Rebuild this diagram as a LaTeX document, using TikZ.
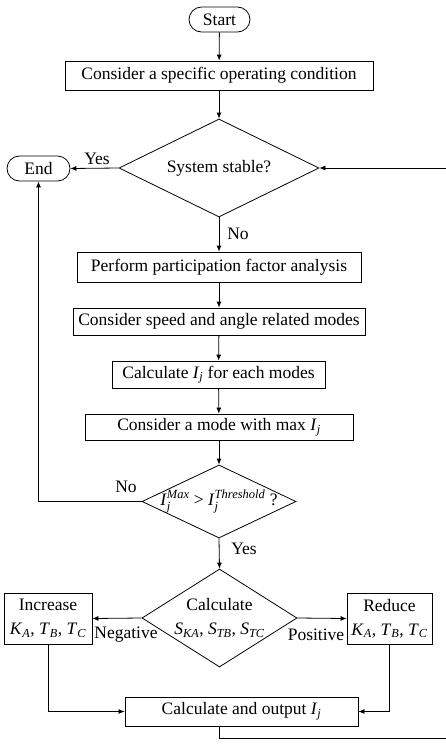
\documentclass[tikz,border=0pt]{standalone}
\usepackage{fontspec}
\setmainfont{Liberation Serif}
\usetikzlibrary{shapes.geometric,shapes.misc,arrows.meta}
\newcommand\Ijs{\textit{I}\textsubscript{\textit{j}}}
\newcommand\scr[1]{\mbox{\fontsize{12.5}{12.5}\selectfont\itshape #1}}
\newcommand\Ijsup[1]{$\mbox{\textit{I}}^{\scr{#1}}_{\scr{j}}$}
\newcommand\sub[2]{\textit{#1}\textsubscript{\textit{#2}}}
\begin{document}
\begin{tikzpicture}[x=1pt,y=-1pt,
  font=\fontsize{17.5}{20}\selectfont,
  line width=0.8pt,
  >={Latex[length=6pt,width=5pt]},
  box/.style={draw, rectangle, inner sep=0pt, align=center},
  term/.style={draw, rounded rectangle, inner sep=0pt},
  dia/.style={draw, diamond, inner sep=0pt},
  two/.style={font=\fontsize{17.5}{24}\selectfont},
  lbl/.style={inner sep=0pt}]
\clip (0,0) rectangle (446,750);
\node[term, minimum width=61pt, minimum height=25pt] (start) at (219.5,19.5) {Start};
\node[box, minimum width=308pt, minimum height=29pt] (b1) at (219,75.5) {Consider a specific operating condition};
\node[dia, minimum width=200pt, minimum height=98pt, label=center:{System stable?}] (d1) at (219,168) {};
\node[term, minimum width=63pt, minimum height=25pt] (end) at (38.5,168.5) {End};
\node[box, minimum width=284pt, minimum height=30pt] (b2) at (219,267) {Perform participation factor analysis};
\node[box, minimum width=292pt, minimum height=27pt] (b3) at (219,321.5) {Consider speed and angle related modes};
\node[box, minimum width=213pt, minimum height=27pt] (b4) at (218.5,374.5) {Calculate \Ijs{} for each modes};
\node[box, minimum width=268pt, minimum height=26pt] (b5) at (219,427) {Consider a mode with max \Ijs};
\node[dia, minimum width=154pt, minimum height=73pt, label=center:{\Ijsup{Max} > \Ijsup{Threshold} ?}] (d2) at (219,501.5) {};
\node[dia, minimum width=155pt, minimum height=98pt, label={[align=center, two]center:{Calculate\\\sub{S}{KA}, \sub{S}{TB}, \sub{S}{TC}}}] (d3) at (219.5,618) {};
\node[box, two, minimum width=88pt, minimum height=51pt] (inc) at (48,618.5) {Increase\\\sub{K}{A}, \sub{T}{B}, \sub{T}{C}};
\node[box, two, minimum width=85pt, minimum height=51pt] (red) at (389.5,618.5) {Reduce\\\sub{K}{A}, \sub{T}{B}, \sub{T}{C}};
\node[box, minimum width=233pt, minimum height=29pt] (b6) at (241.5,711.5) {Calculate and output \Ijs};
\coordinate (rb) at (448,738.5);
% labels
\node[lbl] (yes1) at (97,159) {Yes};
\node[lbl] (no1) at (238,234) {No};
\node[lbl] (no2) at (126,487) {No};
\node[lbl] (yes2) at (244,549) {Yes};
\node[lbl] (neg) at (126,635) {Negative};
\node[lbl] (pos) at (316,635) {Positive};
% connectors
\draw[->] (start) -- (b1);
\draw[->] (b1) -- (d1.north);
\draw[->] (d1.west) -- (end.east);
\draw[->] (d1.south) -- (b2);
\draw[->] (b2) -- (b3);
\draw[->] (b3) -- (b4);
\draw[->] (b4) -- (b5);
\draw[->] (b5) -- (d2.north);
\draw[->] (d2.west) -| (end.south);
\draw[->] (d2.south) -- (d3.north);
\draw[->] (d3.west) -- (inc.east);
\draw[->] (d3.east) -- (red.west);
\draw[->] (inc.south) |- (b6.west);
\draw[->] (red.south) |- (b6.east);
\draw[->] (b6.south -| d3.south) |- (rb) |- (d1.east);
\end{tikzpicture}
\end{document}
